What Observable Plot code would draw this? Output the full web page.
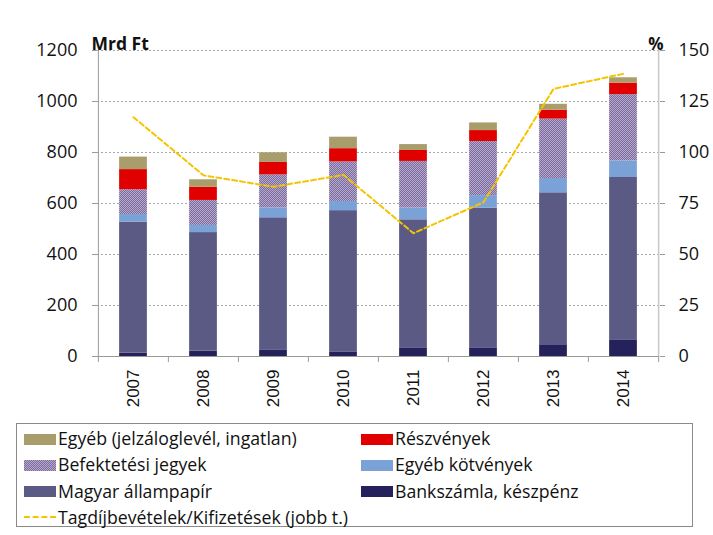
<!DOCTYPE html>
<html>
<head>
<meta charset="utf-8">
<script src="https://cdn.jsdelivr.net/npm/d3@7"></script>
<script src="https://cdn.jsdelivr.net/npm/@observablehq/plot@0.6"></script>
<style>
  html, body { margin: 0; padding: 0; background: #fff; }
  #wrap { position: relative; width: 713px; height: 535px; }
  #legend { position: absolute; left: 16px; top: 423px; width: 675px; height: 102px;
    border: 1px solid #8a8a8a; font-family: "Open Sans", sans-serif; font-size: 17.7px; color: #111; }
  .item { position: absolute; height: 26px; line-height: 26px; white-space: nowrap; }
  .sw { display: inline-block; width: 32px; height: 11px; vertical-align: middle; margin-right: 2px; position: relative; top: -1px; }
</style>
</head>
<body>
<div id="wrap">
  <div id="chart"></div>
  <div id="legend"></div>
</div>
<script>
const years = ["2007", "2008", "2009", "2010", "2011", "2012", "2013", "2014"];
const seriesNames = [
  "Bankszámla, készpénz",
  "Magyar állampapír",
  "Egyéb kötvények",
  "Befektetési jegyek",
  "Részvények",
  "Egyéb (jelzáloglevél, ingatlan)"
];
const seriesColors = ["#25215a", "#5b5a85", "#7aa2d6", "url(#hatch)", "#e00000", "#a99d6c"];
const bankszamla   = [13, 21, 26, 18, 34, 34, 46, 63];
const allampapir   = [514, 465, 518, 554, 502, 548, 596, 639];
const egyebKotveny = [30, 28, 39, 36, 46, 49, 56, 65];
const befektetesi  = [97, 98, 129, 155, 183, 212, 233, 260];
const reszvenyek   = [79, 52, 49, 52, 43, 43, 35, 45];
const egyeb        = [49, 29, 38, 45, 23, 30, 23, 21];
const ratioPct     = [117.3, 88.8, 83.2, 89.0, 60.4, 75.6, 131.2, 138.6];
const leftTicks = [0, 200, 400, 600, 800, 1000, 1200];
const lineName = "Tagdíjbevételek/Kifizetések (jobb t.)";

const seriesValues = [bankszamla, allampapir, egyebKotveny, befektetesi, reszvenyek, egyeb];
const rows = [];
seriesNames.forEach((s, i) => years.forEach((y, j) => rows.push({year: y, series: s, value: seriesValues[i][j]})));
const ratio = years.map((y, j) => ({year: y, pct: ratioPct[j]}));
const k = 1200 / 150; // right axis 0–150 maps onto left 0–1200

const W = 713, H = 415, mL = 97, mR = 54, mT = 50, mB = 59;
const bw = (W - mL - mR) / years.length;
const inset = (bw - 28) / 2;
const tickFont = "'Open Sans', sans-serif";

const chart = Plot.plot({
  width: W, height: H,
  marginLeft: mL, marginRight: mR, marginTop: mT, marginBottom: mB,
  style: {fontFamily: tickFont, fontSize: "18px", color: "#111", background: "#fff"},
  x: {domain: years, padding: 0, axis: null},
  y: {domain: [0, 1200], axis: null},
  color: {domain: seriesNames, range: seriesColors},
  marks: [
    Plot.gridY(leftTicks.filter(d => d > 0), {stroke: "#a8a8a8", strokeOpacity: 1, strokeDasharray: "2,2"}),
    Plot.barY(rows, {x: "year", y: "value", fill: "series", order: seriesNames, insetLeft: inset, insetRight: inset}),
    Plot.line(ratio, {x: "year", y: d => d.pct * k, stroke: "#f5c400", strokeWidth: 2, strokeDasharray: "5,3"}),
    Plot.ruleY([0], {stroke: "#9a9a9a", insetLeft: -5}),
    Plot.ruleX([years[0]], {y1: 0, y2: 1200, dx: -bw / 2, stroke: "#9a9a9a"}),
    Plot.ruleX([years[years.length - 1]], {y1: 0, y2: 1200, dx: bw / 2, stroke: "#c8c8c8", strokeWidth: 1.5}),
    Plot.ruleX(years, {y1: 0, y2: 0, dx: -bw / 2, insetBottom: -6, stroke: "#9a9a9a"}),
    Plot.ruleX([years[years.length - 1]], {y1: 0, y2: 0, dx: bw / 2, insetBottom: -6, stroke: "#9a9a9a"}),
    Plot.axisY({anchor: "left", ticks: leftTicks, tickSize: 5, tickPadding: 15, label: null, tickFormat: d => String(d), stroke: "#9a9a9a", fontSize: 18}),
    Plot.axisY({anchor: "right", ticks: leftTicks, tickSize: 5, tickPadding: 14, label: null, tickFormat: d => String(d / k), stroke: "#9a9a9a", fontSize: 18}),
    Plot.axisX({tickRotate: -90, tickSize: 0, tickPadding: 13, label: null, fontSize: 17, fontFamily: "'Liberation Sans', Arial, sans-serif"}),
    Plot.text(["Mrd Ft"], {frameAnchor: "top-left", textAnchor: "start", dx: -6, dy: -13, fontWeight: "bold", fontSize: 17.5}),
    Plot.text(["%"], {frameAnchor: "top-right", textAnchor: "end", dx: 4, dy: -13, fontWeight: "bold", fontSize: 17})
  ]
});

// checker pattern for "Befektetési jegyek"
const svg = d3.select(chart);
const pat = svg.insert("defs", ":first-child").append("pattern")
  .attr("id", "hatch").attr("patternUnits", "userSpaceOnUse").attr("width", 2).attr("height", 2);
pat.append("rect").attr("width", 2).attr("height", 2).attr("fill", "#7c6b9d");
pat.append("rect").attr("x", 0).attr("y", 0).attr("width", 1).attr("height", 1).attr("fill", "#b4a8cc");
pat.append("rect").attr("x", 1).attr("y", 1).attr("width", 1).attr("height", 1).attr("fill", "#b4a8cc");
document.getElementById("chart").appendChild(chart);

// legend
const legendItems = [
  {name: "Egyéb (jelzáloglevél, ingatlan)", color: "#a99d6c", col: 0, row: 0},
  {name: "Részvények", color: "#e00000", col: 1, row: 0},
  {name: "Befektetési jegyek", color: "hatch", col: 0, row: 1},
  {name: "Egyéb kötvények", color: "#7aa2d6", col: 1, row: 1},
  {name: "Magyar állampapír", color: "#5b5a85", col: 0, row: 2},
  {name: "Bankszámla, készpénz", color: "#25215a", col: 1, row: 2},
  {name: lineName, color: "line", col: 0, row: 3}
];
const lg = document.getElementById("legend");
legendItems.forEach(it => {
  const d = document.createElement("div");
  d.className = "item";
  d.style.left = (it.col ? 344 : 7) + "px";
  d.style.top = (1 + it.row * 26.3) + "px";
  let sw;
  if (it.color === "line") {
    sw = `<span class="sw" style="height:0;border-top:2px dashed #f5c400;top:-2px"></span>`;
  } else if (it.color === "hatch") {
    sw = `<span class="sw" style="background:repeating-conic-gradient(#7c6b9d 0 25%, #b4a8cc 0 50%) 0 0/2px 2px"></span>`;
  } else {
    sw = `<span class="sw" style="background:${it.color}"></span>`;
  }
  d.innerHTML = sw + it.name;
  lg.appendChild(d);
});
</script>
</body>
</html>
